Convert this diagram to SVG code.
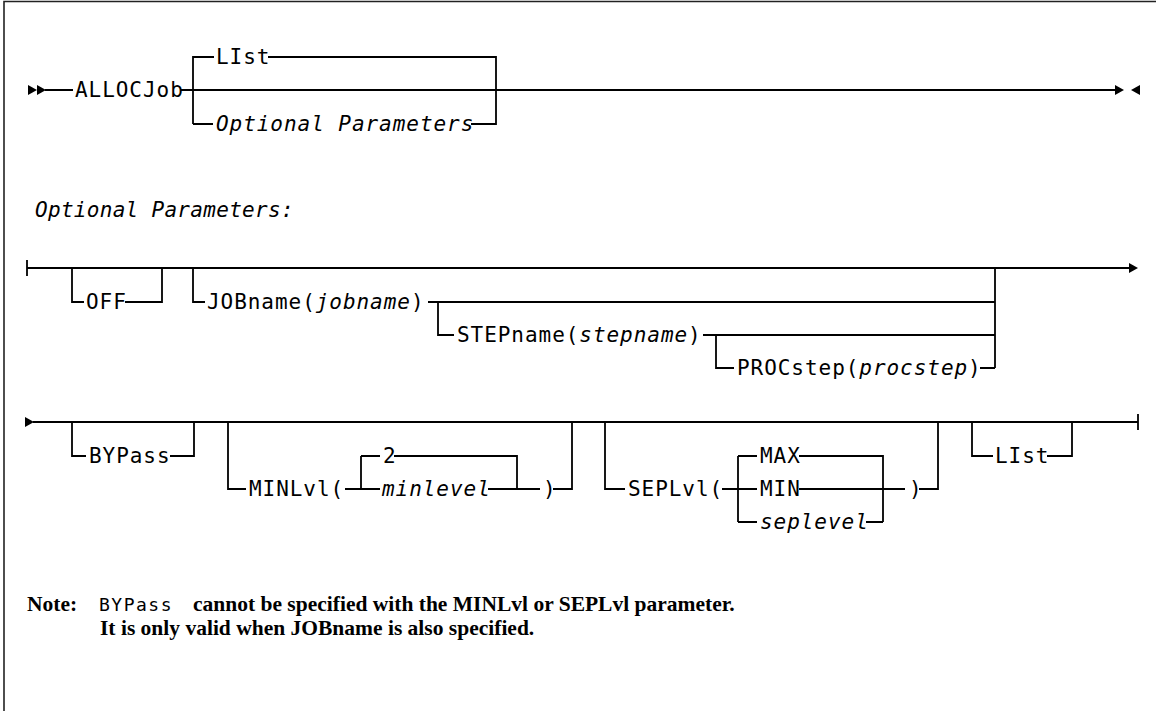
<svg xmlns="http://www.w3.org/2000/svg" width="1156" height="711" viewBox="0 0 1156 711">
<style>
.ln{fill:none;stroke:#000;stroke-width:1.8}
.fr{fill:none;stroke:#222;stroke-width:1.6}
.ar{fill:#000}
.t{font-family:"DejaVu Sans Mono",monospace;font-size:21px;letter-spacing:0.95px;fill:#000}
.h{letter-spacing:0.3px}
.i{font-style:italic}
.n{font-family:"Liberation Serif",serif;font-weight:bold;font-size:21.5px;fill:#000}
.nm{font-family:"DejaVu Sans Mono",monospace;font-size:18px;letter-spacing:1.5px;fill:#000}
</style>
<path class="fr" d="M4,711 V1.5 H1156"/>
<g id="connectors">
<polygon class="ar" points="28,85 28,95 37,90"/>
<polygon class="ar" points="37,85 37,95 46,90"/>
<path class="ln" d="M45,90 H73 M181,90 H1115"/>
<path class="ln" d="M193,124 V57 H214 M268,57 H496 V124 H471 M193,124 H213"/>
<polygon class="ar" points="1115,85 1115,95 1124,90"/>
<polygon class="ar" points="1140,85 1140,95 1131,90"/>
<path class="ln" d="M27,260 V276 M27,268 H1130"/>
<polygon class="ar" points="1129,263 1129,273 1138,268"/>
<path class="ln" d="M72,268 V302 H84 M125,302 H162 V268"/>
<path class="ln" d="M193,268 V302 H205 M428,302 H995 M995,268 V368"/>
<path class="ln" d="M438,302 V335 H454 M703,335 H995"/>
<path class="ln" d="M716,335 V368 H734 M980,368 H995"/>
<polygon class="ar" points="25,417 25,427 34,422"/>
<path class="ln" d="M33,422 H1138 M1138,414 V430"/>
<path class="ln" d="M72,422 V456 H86 M170,456 H194 V422"/>
<path class="ln" d="M228,422 V489 H246 M345,489 H380 M361,456 V489 M361,456 H380 M394,456 H517 V489 M488,489 H540 M553,489 H572 V422"/>
<path class="ln" d="M605,422 V489 H625 M722,489 H757 M738,456 V522 M738,456 H757 M799,456 H883 V522 M799,489 H905 M919,489 H938 V422 M738,522 H757 M866,522 H883"/>
<path class="ln" d="M972,422 V456 H993 M1047,456 H1072 V422"/>
</g>
<g id="n-allocjob"><text class="t" x="75" y="97">ALLOCJob</text></g>
<g id="n-list1"><text class="t" x="216" y="64">LIst</text></g>
<g id="n-optparams1"><text class="t i" x="216" y="131">Optional Parameters</text></g>
<g id="n-heading"><text class="t i h" x="35" y="217">Optional Parameters:</text></g>
<g id="n-off"><text class="t" x="86" y="309">OFF</text></g>
<g id="n-jobname"><text class="t" x="207" y="309">JOBname(<tspan class="i">jobname</tspan>)</text></g>
<g id="n-stepname"><text class="t" x="457" y="342">STEPname(<tspan class="i">stepname</tspan>)</text></g>
<g id="n-procstep"><text class="t" x="737" y="375">PROCstep(<tspan class="i">procstep</tspan>)</text></g>
<g id="n-bypass"><text class="t" x="89" y="463">BYPass</text></g>
<g id="n-minlvl"><text class="t" x="249" y="496">MINLvl(</text><text class="t" x="543" y="496">)</text></g>
<g id="n-2"><text class="t" x="383" y="463">2</text></g>
<g id="n-minlevel"><text class="t i" x="382" y="496">minlevel</text></g>
<g id="n-seplvl"><text class="t" x="628" y="496">SEPLvl(</text><text class="t" x="909" y="496">)</text></g>
<g id="n-max"><text class="t" x="760" y="463">MAX</text></g>
<g id="n-min"><text class="t" x="760" y="496">MIN</text></g>
<g id="n-seplevel"><text class="t i" x="760" y="529">seplevel</text></g>
<g id="n-list2"><text class="t" x="995" y="463">LIst</text></g>
<g id="note">
<text class="n" x="27" y="611">Note:</text>
<text class="nm" x="99" y="611">BYPass</text>
<text class="n" x="193" y="611">cannot be specified with the MINLvl or SEPLvl parameter.</text>
<text class="n" x="100" y="635">It is only valid when JOBname is also specified.</text>
</g>
</svg>
